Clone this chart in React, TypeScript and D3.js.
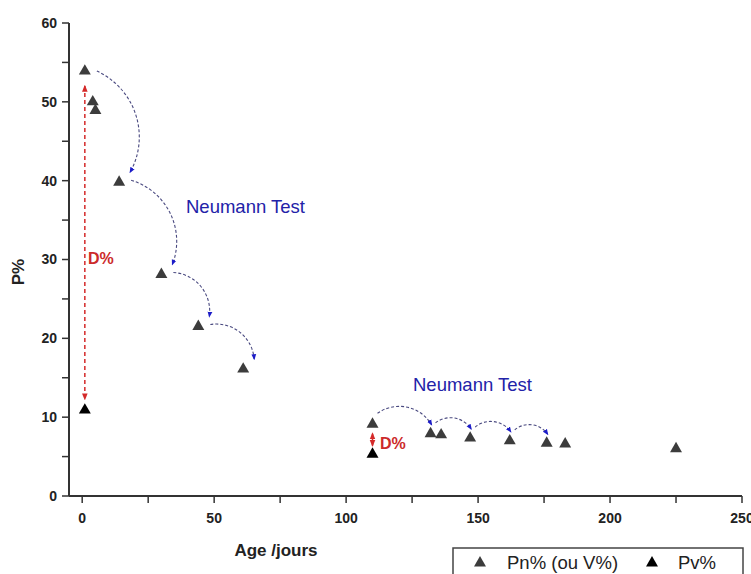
import React from "react";
import * as d3 from "d3";

const pnAge = [1, 4, 5, 14, 30, 44, 61, 110, 132, 136, 147, 162, 176, 183, 225];
const pnVal = [53.9, 50, 48.9, 39.8, 28.1, 21.5, 16.1, 9.1, 7.9, 7.75, 7.35, 7.0, 6.7, 6.6, 6.0];
const pvAge = [1, 110];
const pvVal = [10.9, 5.3];
// Neumann test arcs (index pairs into Pn series)
const arcsGroup1 = [[0, 3], [3, 4], [4, 5], [5, 6]];
const arcsGroup2 = [[7, 8], [8, 10], [10, 11], [11, 12]];
// D% arrows: [age, from, to]
const dArrows = [[1, 52.0, 12.3], [110, 7.9, 6.4]];
const xTicks = [0, 50, 100, 150, 200, 250];
const xMinor = [25, 75, 125, 175, 225];
const yTicks = [0, 10, 20, 30, 40, 50, 60];
const yMinor = [5, 15, 25, 35, 45, 55];

const W = 751, H = 574;
const x = d3.scaleLinear().domain([-5, 250]).range([69, 742]);
const y = d3.scaleLinear().domain([0, 60]).range([496, 23]);

const axisColor = "#333";
const font = "Liberation Sans, Arial, sans-serif";

function arcPath(sx: number, sy: number, ex: number, ey: number) {
  const d = Math.hypot(ex - sx, ey - sy);
  const r = d * 0.68;
  return `M${sx},${sy} A${r},${r} 0 0 1 ${ex},${ey}`;
}

export default function App() {
  const tri = d3.symbol(d3.symbolTriangle, 62)() as string;
  const g1 = arcsGroup1.map(([a, b]) => {
    const sx = x(pnAge[a]) + 12, sy = y(pnVal[a]) - (a === 0 ? 0 : 2);
    const ex = x(pnAge[b]) + 11, ey = y(pnVal[b]) - 10;
    return arcPath(sx, sy, ex, ey);
  });
  const g2 = arcsGroup2.map(([a, b]) => {
    const sx = x(pnAge[a]) + 5, sy = y(pnVal[a]) - 11;
    const ex = x(pnAge[b]) + 1, ey = y(pnVal[b]) - 9;
    return arcPath(sx, sy, ex, ey);
  });
  return (
    <svg width={W} height={H} style={{ position: "absolute", left: 0, top: 0, background: "#fff" }}>
      <defs>
        <marker id="blueArr" viewBox="0 0 10 10" refX="8" refY="5" markerWidth="6" markerHeight="6" orient="auto" markerUnits="userSpaceOnUse">
          <path d="M0,1 L10,5 L0,9 Z" fill="#1c1cc8" />
        </marker>
        <marker id="redArr" viewBox="0 0 10 10" refX="8" refY="5" markerWidth="7" markerHeight="7" orient="auto-start-reverse" markerUnits="userSpaceOnUse">
          <path d="M0,1 L10,5 L0,9 Z" fill="#d42a2a" />
        </marker>
      </defs>

      {/* axes */}
      <line x1={69} x2={69} y1={y(60)} y2={y(0)} stroke={axisColor} strokeWidth={2} />
      <line x1={69} x2={742} y1={y(0)} y2={y(0)} stroke={axisColor} strokeWidth={2} />
      {yTicks.concat(yMinor).map((t) => (
        <line key={"yt" + t} x1={62} x2={69} y1={y(t)} y2={y(t)} stroke={axisColor} strokeWidth={1.5} />
      ))}
      {yTicks.map((t) => (
        <text key={"yl" + t} x={57} y={y(t)} dy="0.35em" textAnchor="end" fontFamily={font} fontWeight="bold" fontSize={14} fill="#222">{t}</text>
      ))}
      {xTicks.concat(xMinor).map((t) => (
        <line key={"xt" + t} x1={x(t)} x2={x(t)} y1={y(0)} y2={y(0) + 7} stroke={axisColor} strokeWidth={1.5} />
      ))}
      {xTicks.map((t) => (
        <text key={"xl" + t} x={x(t)} y={518} dy="0.35em" textAnchor="middle" fontFamily={font} fontWeight="bold" fontSize={14} fill="#222">{t}</text>
      ))}
      <text x={276} y={556} textAnchor="middle" fontFamily={font} fontWeight="bold" fontSize={17} fill="#222">Age /jours</text>
      <text transform="translate(24,272) rotate(-90)" textAnchor="middle" fontFamily={font} fontWeight="bold" fontSize={17} fill="#222">P%</text>

      {/* D% arrows */}
      {dArrows.map(([a, f, t], i) => (
        <line key={"da" + i} x1={x(a)} x2={x(a)} y1={y(f)} y2={y(t)} stroke="#d42a2a" strokeWidth={1.5}
          strokeDasharray={i === 0 ? "4,3" : "none"} markerStart="url(#redArr)" markerEnd="url(#redArr)" />
      ))}
      <text x={88} y={258} dy="0.35em" fontFamily={font} fontWeight="bold" fontSize={16} fill="#cc2a2a">D%</text>
      <text x={380} y={443} dy="0.35em" fontFamily={font} fontWeight="bold" fontSize={16} fill="#cc2a2a">D%</text>

      {/* Neumann arcs */}
      {g1.concat(g2).map((p, i) => (
        <path key={"arc" + i} d={p} fill="none" stroke="#4a4a80" strokeWidth={1.1} strokeDasharray="3,2" markerEnd="url(#blueArr)" />
      ))}
      <text x={186} y={207} dy="0.35em" fontFamily={font} fontSize={18.5} fill="#2222a8">Neumann Test</text>
      <text x={413} y={385} dy="0.35em" fontFamily={font} fontSize={18.5} fill="#2222a8">Neumann Test</text>

      {/* points */}
      {pnAge.map((a, i) => (
        <path key={"pn" + i} d={tri} transform={`translate(${x(a)},${y(pnVal[i])})`} fill="#3c3c3c" />
      ))}
      {pvAge.map((a, i) => (
        <path key={"pv" + i} d={tri} transform={`translate(${x(a)},${y(pvVal[i])})`} fill="#000" />
      ))}

      {/* legend */}
      <rect x={453} y={548} width={290} height={40} fill="#fff" stroke="#444" strokeWidth={1.5} />
      <path d={tri} transform="translate(480,563)" fill="#3c3c3c" />
      <text x={507} y={563} dy="0.35em" fontFamily={font} fontSize={18.5} fill="#222">Pn% (ou V%)</text>
      <path d={tri} transform="translate(652,563)" fill="#000" />
      <text x={678} y={563} dy="0.35em" fontFamily={font} fontSize={18.5} fill="#222">Pv%</text>
    </svg>
  );
}
